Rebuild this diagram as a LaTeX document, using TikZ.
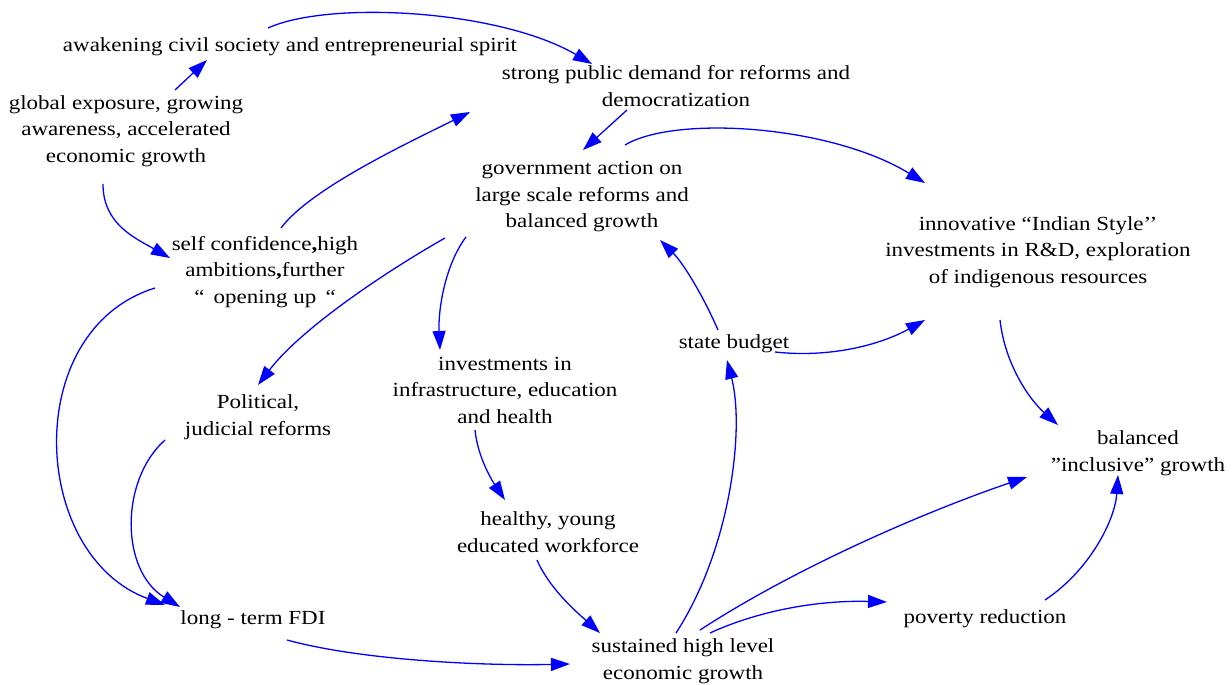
\documentclass[tikz,border=0pt]{standalone}
\usepackage{fontspec}
\setmainfont{Liberation Serif}[FakeStretch=1.15]
\usetikzlibrary{arrows.meta}
\begin{document}
\begin{tikzpicture}[x=1pt,y=-1pt,
  lbl/.style={inner sep=0pt,align=center,font=\fontsize{20}{26.5}\selectfont},
  arr/.style={draw={rgb,255:red,0;green,0;blue,255},line width=1.3pt,-{Triangle[length=19pt,width=13pt]}}]
\useasboundingbox (0,0) rectangle (1232,685);
\node[lbl] (aw) at (290,47) {awakening civil society and entrepreneurial spirit};
\node[lbl] (sp) at (676,86) {strong public demand for reforms and\\democratization};
\node[lbl] (ge) at (126,131) {global exposure, growing\\awareness, accelerated\\economic growth};
\node[lbl] (gov) at (582,197) {government action on\\large scale reforms and\\balanced growth};
\node[lbl] (innov) at (1038,252) {innovative “Indian Style’’\\investments in R\&D, exploration\\of indigenous resources};
\node[lbl] (sc) at (265,272) {self confidence\textbf{,}high\\ambitions\textbf{,}further\\“ \,opening up \,“};
\node[lbl] (pol) at (258,417) {Political,\\judicial reforms};
\node[lbl] (inv) at (505,390) {investments in\\infrastructure, education\\and health};
\node[lbl] (state) at (734,344) {state budget};
\node[lbl] (healthy) at (548,532) {healthy, young\\educated workforce};
\node[lbl] (bal) at (1138,453) {balanced\\”inclusive” growth};
\node[lbl] (fdi) at (253,620) {long - term FDI};
\node[lbl] (sust) at (683,661) {sustained high level\\economic growth};
\node[lbl] (pov) at (985,619) {poverty reduction};

\draw[arr] ([shift={(-22,-19)}]aw.center) .. controls +(62,-28) and +(-92,-54) .. ([shift={(-84,-22)}]sp.center);
\draw[arr] ([shift={(49,-41)}]ge.center) -- ([shift={(-83,13)}]aw.center);
\draw[arr] ([shift={(-49,24)}]sp.center) -- ([shift={(1,-47)}]gov.center);
\draw[arr] ([shift={(16,-44)}]sc.center) .. controls +(30,-40) and +(-60,30) .. ([shift={(-206,26)}]sp.center);
\draw[arr] ([shift={(-23,53)}]ge.center) .. controls +(0,40) and +(-35,-20) .. ([shift={(-95,-14)}]sc.center);
\draw[arr] ([shift={(43,-52)}]gov.center) .. controls +(50,-30) and +(-95,-58) .. ([shift={(-113,-69)}]innov.center);
\draw[arr] ([shift={(-110,16)}]sc.center) .. controls +(-135,42) and +(-135,-50) .. ([shift={(-88,-15)}]fdi.center);
\draw[arr] ([shift={(-93,23)}]pol.center) .. controls +(-45,40) and +(-60,-37) .. ([shift={(-73,-13)}]fdi.center);
\draw[arr] ([shift={(-137,41)}]gov.center) .. controls +(-65,37) and +(42,-55) .. ([shift={(0,-32)}]pol.center);
\draw[arr] ([shift={(-116,40)}]gov.center) .. controls +(-21,28) and +(-2,-40) .. ([shift={(-65,-40)}]inv.center);
\draw[arr] ([shift={(-30,40)}]inv.center) .. controls +(3,30) and +(-10,-15) .. ([shift={(-43,-32)}]healthy.center);
\draw[arr] ([shift={(-11,28)}]healthy.center) .. controls +(13,30) and +(-20,-18) .. ([shift={(-83,-28)}]sust.center);
\draw[arr] ([shift={(34,20)}]fdi.center) .. controls +(73,20) and +(-90,2) .. ([shift={(-113,3)}]sust.center);
\draw[arr] ([shift={(-7,-28)}]sust.center) .. controls +(54,-83) and +(18,70) .. ([shift={(-7,16)}]state.center);
\draw[arr] ([shift={(-16,-14)}]state.center) .. controls +(-13,-30) and +(25,25) .. ([shift={(78,43)}]gov.center);
\draw[arr] ([shift={(41,8)}]state.center) .. controls +(55,6) and +(-45,25) .. ([shift={(-113,68)}]innov.center);
\draw[arr] ([shift={(-38,68)}]innov.center) .. controls +(5,45) and +(-28,-25) .. ([shift={(-80,-28)}]bal.center);
\draw[arr] ([shift={(17,-31)}]sust.center) .. controls +(100,-65) and +(-97,33) .. ([shift={(-111,24)}]bal.center);
\draw[arr] ([shift={(27,-28)}]sust.center) .. controls +(50,-23) and +(-67,-2) .. ([shift={(-98,-17)}]pov.center);
\draw[arr] ([shift={(60,-19)}]pov.center) .. controls +(45,-30) and +(-3,45) .. ([shift={(-20,22)}]bal.center);
\end{tikzpicture}
\end{document}
